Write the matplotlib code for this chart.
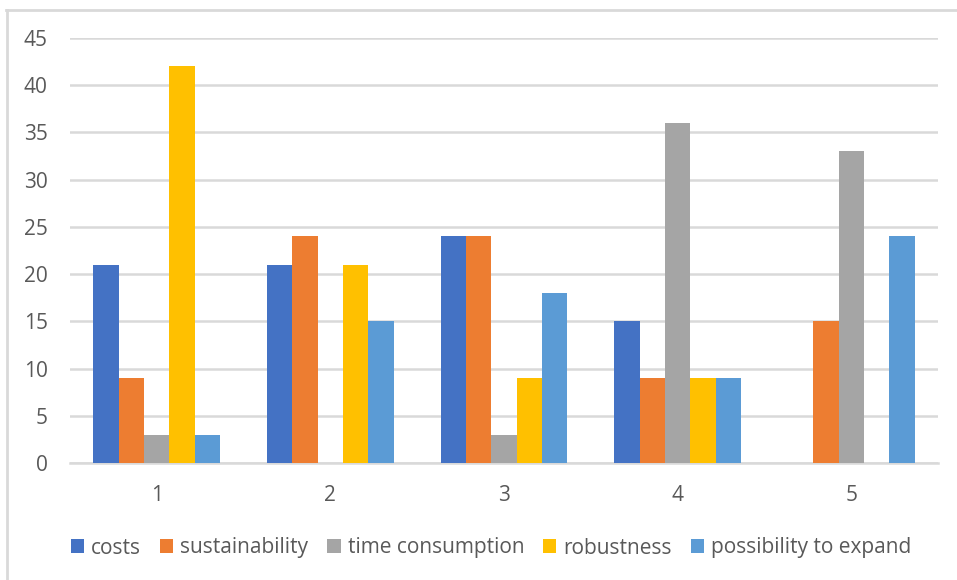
import numpy as np
import matplotlib
matplotlib.use("Agg")
import matplotlib.pyplot as plt
from matplotlib.lines import Line2D
from matplotlib.patches import Patch

plt.rcParams['font.family'] = ['Open Sans', 'DejaVu Sans']

categories = ["1", "2", "3", "4", "5"]
series_names = ["costs", "sustainability", "time consumption", "robustness", "possibility to expand"]
costs = [21, 21, 24, 15, 0]
sustainability = [9, 24, 24, 9, 15]
time_consumption = [3, 0, 3, 36, 33]
robustness = [42, 21, 9, 9, 0]
possibility_to_expand = [3, 15, 18, 9, 24]
y_ticks = [0, 5, 10, 15, 20, 25, 30, 35, 40, 45]

series = [costs, sustainability, time_consumption, robustness, possibility_to_expand]
colors = ["#4472C4", "#ED7D31", "#A5A5A5", "#FFC000", "#5B9BD5"]
text_color = "#595959"
grid_color = "#D9D9D9"

W, H = 957, 580
fig = plt.figure(figsize=(W / 100, H / 100), dpi=100)
ax = fig.add_axes([70 / W, (H - 463) / H, (938 - 70) / W, (463 - 38) / H])

x = np.arange(len(categories))
n = len(series)
bar_w = 0.73 / n
for i, (vals, col) in enumerate(zip(series, colors)):
    offs = (i - (n - 1) / 2) * bar_w
    ax.bar(x + offs, vals, width=bar_w, color=col, linewidth=0, zorder=3)

ax.set_xlim(-0.5, len(categories) - 0.5)
ax.set_ylim(0, 45)
ax.set_yticks(y_ticks)
ax.set_xticks(x)
ax.set_xticklabels(categories)
ax.yaxis.grid(True, color=grid_color, linewidth=1.8, zorder=0)
ax.set_axisbelow(True)
for s in ["top", "right", "left"]:
    ax.spines[s].set_visible(False)
ax.spines["bottom"].set_color(grid_color)
ax.spines["bottom"].set_linewidth(1.8)
ax.tick_params(axis="both", length=0, labelsize=15, colors=text_color)
ax.tick_params(axis="y", pad=16)
ax.tick_params(axis="x", pad=16)

handles = [Patch(facecolor=c, edgecolor="none") for c in colors]
fig.legend(handles, series_names, loc="center", bbox_to_anchor=(491 / W, (H - 548) / H),
           ncol=5, frameon=False, fontsize=15, labelcolor=text_color,
           handlelength=0.65, handleheight=0.65, handletextpad=0.33, columnspacing=0.9)

# outer frame (left and top edges)
fig.add_artist(Line2D([6.5 / W, 6.5 / W], [0, (H - 10) / H], color=grid_color, linewidth=2,
                      transform=fig.transFigure))
fig.add_artist(Line2D([6 / W, 1], [(H - 10) / H, (H - 10) / H], color=grid_color, linewidth=2,
                      transform=fig.transFigure))

fig.savefig("out.png", dpi=100, facecolor="white")
